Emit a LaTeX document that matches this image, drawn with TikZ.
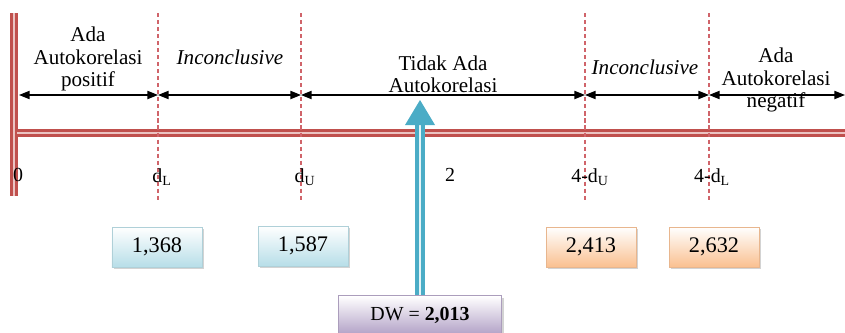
\documentclass[tikz,border=0pt]{standalone}
\usepackage{fontspec}
\setmainfont{Liberation Serif}
\usetikzlibrary{arrows.meta,shadows,positioning}
\definecolor{axisred}{HTML}{C0504D}
\definecolor{axispink}{HTML}{EBC3C2}
\definecolor{dashred}{HTML}{D0646A}
\definecolor{dwblue}{HTML}{4BACC6}
\definecolor{boxblue}{HTML}{B7DEE8}
\definecolor{boxorange}{HTML}{FAC090}
\definecolor{boxpurple}{HTML}{B3A2C7}
\tikzset{every picture/.style={line width=0.75pt}}
\tikzset{
  zone/.style={align=center, inner sep=0pt, font=\fontsize{18}{19}\selectfont},
  ticklbl/.style={inner sep=0pt, font=\fontsize{17}{18}\selectfont},
  border/.style={dashed, draw=dashred, dash pattern=on 3.5pt off 2.5pt, line width=1pt},
  axisline/.style={draw=axisred, line width=2.6pt, double=axispink, double distance=1.4pt},
  span/.style={<->, >={Triangle[length=9pt,width=7pt]}, line width=1pt},
  valbox/.style={draw=#1!85!gray, top color=white, bottom color=#1, minimum width=2.7cm,
    minimum height=1.2cm, inner sep=0pt, font=\fontsize{19}{20}\selectfont,
    drop shadow={shadow xshift=2pt, shadow yshift=-2pt, opacity=0.35}}
}

\begin{document}
\begin{tikzpicture}[x=0.03cm,y=-0.03cm]
  \useasboundingbox (0,0) rectangle (845,332);

  % positions on the axis
  \coordinate (t0)  at (19,95);
  \coordinate (tL)  at (158,95);
  \coordinate (tU)  at (301,95);
  \coordinate (t4U) at (585,95);
  \coordinate (t4L) at (709,95);
  \coordinate (tE)  at (845,95);

  % axis
  \draw [axisline] (14,13) -- (14,196);
  \draw [axisline] (17,133) -- (845,133);
  \foreach \p in {tL,tU,t4U,t4L}
    \draw [border] (\p |- 0,13) -- (\p |- 0,200);

  % ranges
  \draw [span] (t0) -- (tL);
  \draw [span] (tL) -- (tU);
  \draw [span] (tU) -- (t4U);
  \draw [span] (t4U) -- (t4L);
  \draw [span] (t4L) -- (tE);

  \node [zone] (pos) at (88,59) {Ada\\Autokorelasi\\positif};
  \node [zone, font=\fontsize{18}{19}\selectfont\itshape] (inc1) at (230,57) {Inconclusive};
  \node [zone] (none) at (443,74) {Tidak Ada\\Autokorelasi};
  \node [zone, font=\fontsize{18}{19}\selectfont\itshape] (inc2) at (645,67) {Inconclusive};
  \node [zone] (neg) at (776,80) {Ada\\Autokorelasi\\negatif};

  % critical values
  \node [ticklbl] (l0)  at (18,175)  {0};
  \node [ticklbl] (lL)  at (162,177) {d\textsubscript{L}};
  \node [ticklbl] (lU)  at (305,177) {d\textsubscript{U}};
  \node [ticklbl] (l2)  at (450,175) {2};
  \node [ticklbl] (l4U) at (590,177) {4-d\textsubscript{U}};
  \node [ticklbl] (l4L) at (712,177) {4-d\textsubscript{L}};

  \node [valbox=boxblue]   (vL)  at (157,247) {1,368};
  \node [valbox=boxblue]   (vU)  at (303,246) {1,587};
  \node [valbox=boxorange] (v4U) at (591,247) {2,413};
  \node [valbox=boxorange] (v4L) at (714,247) {2,632};
  \node [valbox=boxpurple, minimum width=4.9cm, minimum height=1.15cm,
    font=\fontsize{17}{18}\selectfont] (dw) at (420,315) {DW = \textbf{2,013}};

  % DW arrow
  \coordinate (tip) at (420,100);
  \draw [draw=dwblue, line width=3pt, double=white!85!dwblue, double distance=2.5pt]
    (dw.north) -- (420,124);
  \fill [dwblue] (tip) -- (435,125) -- (405,125) -- cycle;
\end{tikzpicture}
\end{document}
